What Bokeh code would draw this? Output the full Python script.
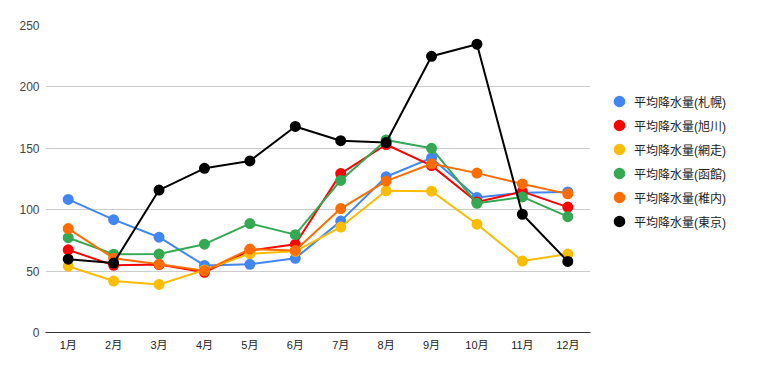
from bokeh.plotting import figure
from bokeh.models import FactorRange, Range1d, Legend, LegendItem, FixedTicker
from bokeh.embed import file_html
from bokeh.resources import INLINE

months = ["1月", "2月", "3月", "4月", "5月", "6月", "7月", "8月", "9月", "10月", "11月", "12月"]
sapporo = [108.4, 91.9, 77.6, 54.6, 55.5, 60.4, 90.7, 126.8, 142.2, 109.9, 113.8, 114.5]
asahikawa = [67.3, 54.7, 55.3, 49.0, 66.8, 71.8, 129.4, 153.1, 135.9, 106.3, 114.7, 102.1]
abashiri = [54.0, 41.9, 39.1, 50.9, 64.2, 66.1, 85.9, 115.4, 115.1, 88.2, 58.2, 63.9]
hakodate = [77.2, 63.8, 63.9, 71.9, 88.7, 79.7, 123.8, 156.8, 150.0, 105.2, 110.4, 94.3]
wakkanai = [84.6, 60.5, 55.5, 50.2, 67.9, 66.8, 100.9, 123.3, 137.4, 129.8, 121.0, 112.9]
tokyo = [59.7, 56.5, 116.0, 133.7, 139.7, 167.8, 156.2, 154.7, 224.9, 234.8, 96.3, 57.9]

series_names = ["平均降水量(札幌)", "平均降水量(旭川)", "平均降水量(網走)",
                "平均降水量(函館)", "平均降水量(稚内)", "平均降水量(東京)"]
series_values = [sapporo, asahikawa, abashiri, hakodate, wakkanai, tokyo]
colors = ["#4285f4", "#ff0000", "#fbbc04", "#34a853", "#ff6d01", "#000000"]
y_ticks = [0, 50, 100, 150, 200, 250]

FONT = "'Liberation Sans', 'Noto Sans CJK JP'"

p = figure(frame_width=545, frame_height=307, x_range=FactorRange(*months, range_padding=0),
           y_range=Range1d(0, 250), output_backend="svg", toolbar_location=None,
           min_border_left=45, min_border_right=0, min_border_top=25, min_border_bottom=39)
p.outline_line_color = None
p.xgrid.grid_line_color = None
p.ygrid.grid_line_color = "#cccccc"
p.ygrid.grid_line_width = 1
p.yaxis.ticker = FixedTicker(ticks=y_ticks)
p.yaxis.axis_line_color = None
p.yaxis.major_tick_line_color = None
p.yaxis.minor_tick_line_color = None
p.yaxis.major_tick_in = 0
p.yaxis.major_tick_out = 0
p.yaxis.major_label_standoff = 6
p.yaxis.major_label_text_font = FONT
p.yaxis.major_label_text_font_size = "12px"
p.yaxis.major_label_text_color = "#444444"
p.xaxis.axis_line_color = "#333333"
p.xaxis.axis_line_width = 1
p.xaxis.major_tick_line_color = None
p.xaxis.minor_tick_line_color = None
p.xaxis.major_tick_in = 0
p.xaxis.major_tick_out = 0
p.xaxis.major_label_standoff = 6
p.xaxis.major_label_text_font = FONT
p.xaxis.major_label_text_font_size = "11px"
p.xaxis.major_label_text_color = "#222222"

items = []
for name, vals, c in zip(series_names, series_values, colors):
    p.line(months, vals, line_color=c, line_width=2)
    r = p.scatter(months, vals, size=9, fill_color=c, line_color=c, line_width=2)
    items.append(LegendItem(label=name, renderers=[r]))

legend = Legend(items=items, location=(14, 99), glyph_width=30, glyph_height=24,
                spacing=0, label_standoff=0, padding=0, margin=14,
                border_line_color=None, background_fill_alpha=0,
                label_text_font=FONT, label_text_font_size="12px",
                label_text_color="#222222")
p.add_layout(legend, "right")

open("out.html", "w").write(file_html(p, INLINE))
